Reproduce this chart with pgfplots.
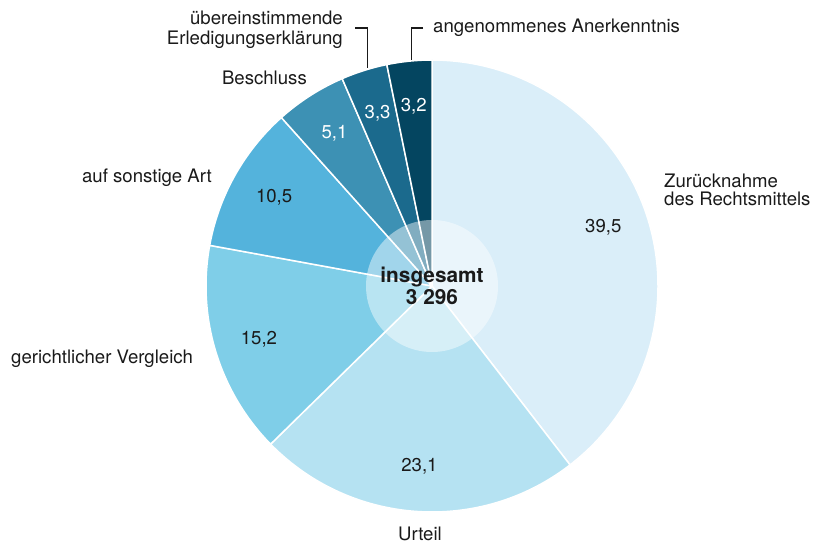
\documentclass[border=0pt]{standalone}
\usepackage{pgfplots}
\usepackage{pgfplotstable}
\pgfplotsset{compat=1.18}
\usepackage{fontspec}
\setmainfont{TeX Gyre Heros}

\definecolor{c1}{HTML}{DAEEF9}
\definecolor{c2}{HTML}{B5E2F2}
\definecolor{c3}{HTML}{7FCEE8}
\definecolor{c4}{HTML}{54B3DC}
\definecolor{c5}{HTML}{3D91B4}
\definecolor{c6}{HTML}{1B6A8D}
\definecolor{c7}{HTML}{044560}
\definecolor{txtdark}{HTML}{1A1A1A}

% shares in percent, clockwise from 12 o'clock
\pgfplotstableread{
value lab  fill txt
39.5  39,5 c1   txtdark
23.1  23,1 c2   txtdark
15.2  15,2 c3   txtdark
10.5  10,5 c4   txtdark
5.1   5,1  c5   white
3.3   3,3  c6   white
3.2   3,2  c7   white
}\piedata

\newcommand{\lbl}{\fontsize{18.6bp}{20bp}\selectfont}
\tikzset{cat/.style={font=\lbl, text=txtdark, inner sep=0pt}}

\begin{document}
\begin{tikzpicture}
\begin{axis}[
  x=1bp, y=1bp,
  xmin=0, xmax=813, ymin=0, ymax=548,
  y dir=reverse,
  hide axis, clip=false,
]
\path (axis cs:0,0) rectangle (axis cs:813,548);

\pgfplotstablegetrowsof{\piedata}
\pgfmathtruncatemacro\nrows{\pgfplotsretval-1}
% total
\xdef\total{0}
\foreach \i in {0,...,\nrows}{
  \pgfplotstablegetelem{\i}{value}\of\piedata
  \pgfmathsetmacro\tmp{\total+\pgfplotsretval}
  \xdef\total{\tmp}
}
% slices
\xdef\cum{0}
\foreach \i in {0,...,\nrows}{
  \pgfplotstablegetelem{\i}{value}\of\piedata \let\val\pgfplotsretval
  \pgfplotstablegetelem{\i}{fill}\of\piedata \let\slicecol\pgfplotsretval
  \pgfmathsetmacro\angA{90-360*(\cum/\total)}
  \pgfmathsetmacro\angB{90-360*((\cum+\val)/\total)}
  \pgfmathsetmacro\sx{432+226*cos(\angA)}
  \pgfmathsetmacro\sy{286-226*sin(\angA)}
  \edef\temp{\noexpand\fill[\slicecol, draw=white, line width=1.5bp, line join=round]
    (axis cs:432,286) -- (axis cs:\sx,\sy)
    arc[start angle=\angA, end angle=\angB, radius=226bp] -- cycle;}
  \temp
  \pgfmathsetmacro\tmp{\cum+\val}
  \xdef\cum{\tmp}
}
% inner circle
\fill[white, opacity=0.45] (axis cs:432,286) circle[radius=66bp];
% value labels
\xdef\cum{0}
\foreach \i in {0,...,\nrows}{
  \pgfplotstablegetelem{\i}{value}\of\piedata \let\val\pgfplotsretval
  \pgfplotstablegetelem{\i}{lab}\of\piedata \let\vlab\pgfplotsretval
  \pgfplotstablegetelem{\i}{txt}\of\piedata \let\vcol\pgfplotsretval
  \pgfmathsetmacro\angM{90-360*((\cum+\val/2)/\total)}
  \pgfmathsetmacro\mx{432+181*cos(\angM)}
  \pgfmathsetmacro\my{286-181*sin(\angM)}
  \edef\temp{\noexpand\node[text=\vcol, font=\noexpand\lbl] at (axis cs:\mx,\my) {\vlab};}
  \temp
  \pgfmathsetmacro\tmp{\cum+\val}
  \xdef\cum{\tmp}
}

% centre text
\node[anchor=base, font=\fontsize{20.8bp}{22bp}\selectfont\bfseries, text=txtdark]
  at (axis cs:432,283) {insgesamt};
\node[anchor=base, font=\fontsize{20.8bp}{22bp}\selectfont\bfseries, text=txtdark]
  at (axis cs:432,305) {3 296};

% category labels
\node[cat, anchor=base west] at (axis cs:664,188) {Zurücknahme};
\node[cat, anchor=base west] at (axis cs:664,206) {des Rechtsmittels};
\node[cat, anchor=base] at (axis cs:420,540) {Urteil};
\node[cat, anchor=base west] at (axis cs:11,363) {gerichtlicher Vergleich};
\node[cat, anchor=base east] at (axis cs:212,183) {auf sonstige Art};
\node[cat, anchor=base east] at (axis cs:307,85) {Beschluss};
\node[cat, anchor=base east] at (axis cs:343,25) {übereinstimmende};
\node[cat, anchor=base east] at (axis cs:343,45) {Erledigungserklärung};
\node[cat, anchor=base west] at (axis cs:433,33) {angenommenes Anerkenntnis};

% leader lines
\draw[txtdark, line width=1.2bp] (axis cs:355,28) -- (axis cs:367.5,28) -- (axis cs:367.5,68);
\draw[txtdark, line width=1.2bp] (axis cs:423,28) -- (axis cs:411.5,28) -- (axis cs:411.5,60);
\end{axis}
\end{tikzpicture}
\end{document}
